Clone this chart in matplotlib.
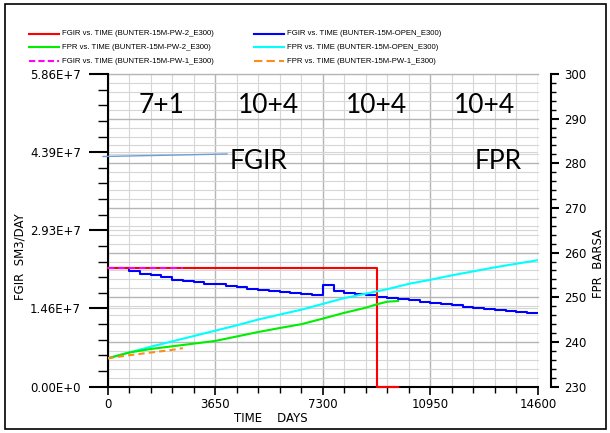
import numpy as np
import matplotlib
matplotlib.use('Agg')
import matplotlib.pyplot as plt
from matplotlib.ticker import MultipleLocator
from matplotlib.transforms import blended_transform_factory
from matplotlib.lines import Line2D
from matplotlib.patches import Rectangle

# --- data ---
# FGIR, SM3/DAY
fgir_pw2_t = [0, 9125, 9855]
fgir_pw2 = [2.216e7, 0.0, 0.0]

fgir_pw1_t = [0, 2555]
fgir_pw1 = [2.216e7, 2.216e7]

fgir_open_t = [365 * i for i in range(41)]
fgir_open = [2.216e7, 2.216e7, 2.160e7, 2.117e7, 2.085e7, 2.053e7, 2.004e7, 1.978e7,
             1.953e7, 1.929e7, 1.916e7, 1.884e7, 1.865e7, 1.835e7, 1.803e7, 1.790e7,
             1.766e7, 1.752e7, 1.738e7, 1.715e7, 1.900e7, 1.800e7, 1.760e7, 1.728e7,
             1.710e7, 1.677e7, 1.660e7, 1.634e7, 1.615e7, 1.583e7, 1.565e7, 1.540e7,
             1.520e7, 1.500e7, 1.480e7, 1.460e7, 1.440e7, 1.420e7, 1.400e7, 1.380e7,
             1.380e7]

# FPR, BARSA
fpr_pw2_t = [0, 730, 1460, 2190, 2920, 3650, 4380, 5110, 5840, 6570, 7300, 8030,
             8760, 9125, 9490, 9855]
fpr_pw2 = [236.3, 237.6, 238.4, 239.0, 239.6, 240.2, 241.2, 242.2, 243.1, 243.95,
           245.2, 246.5, 247.65, 248.4, 249.0, 249.15]

fpr_open_t = [730 * i for i in range(21)]
fpr_open = [236.3, 237.6, 238.9, 240.1, 241.3, 242.5, 243.7, 245.0, 246.1, 247.2,
            248.5, 249.8, 250.8, 251.8, 253.0, 253.9, 254.9, 255.8, 256.7, 257.5, 258.3]

fpr_pw1_t = [0, 730, 1460, 2190, 2555]
fpr_pw1 = [236.3, 237.0, 237.6, 238.2, 238.6]

x_ticks = [0, 3650, 7300, 10950, 14600]
y_ticks = [0, 1.465e7, 2.93e7, 4.395e7, 5.86e7]
y_tick_labels = ['0.00E+0', '1.46E+7', '2.93E+7', '4.39E+7', '5.86E+7']
p_ticks = [230, 240, 250, 260, 270, 280, 290, 300]

phases = ['7+1', '10+4', '10+4', '10+4']

legend_rows = [
    ('FGIR vs. TIME (BUNTER-15M-PW-2_E300)', 'red', '-',
     'FGIR vs. TIME (BUNTER-15M-OPEN_E300)', 'blue', '-'),
    ('FPR vs. TIME (BUNTER-15M-PW-2_E300)', '#00ee00', '-',
     'FPR vs. TIME (BUNTER-15M-OPEN_E300)', 'cyan', '-'),
    ('FGIR vs. TIME (BUNTER-15M-PW-1_E300)', 'magenta', '--',
     'FPR vs. TIME (BUNTER-15M-PW-1_E300)', '#ff8c1a', '--'),
]

W, H = 610, 433
plt.rcParams['font.family'] = 'DejaVu Sans'


def fx(x):
    return x / W


def fy(y):
    return 1 - y / H


fig = plt.figure(figsize=(W / 100, H / 100), dpi=100)
ax = fig.add_axes([fx(107.5), fy(386.5), (538 - 107.5) / W, (386.5 - 74) / H])
ax2 = ax.twinx()

ax.set_xlim(0, 14600)
ax.set_ylim(0, 5.86e7)
ax2.set_ylim(230, 300)

# grid
light = '#d6d6d6'
dark = '#b5b5b5'
ax.set_axisbelow(True)
for d in range(0, 14601, 730):
    ax.axvline(d, color=dark if d % 3650 == 0 else light, lw=1.0 if d % 3650 == 0 else 0.8, zorder=0.5)
for v in y_ticks[1:]:
    ax.axhline(v, color=light, lw=0.8, zorder=0.5)
trans = blended_transform_factory(ax.transAxes, ax2.transData)
for p in range(232, 301, 2):
    ax.plot([0, 1], [p, p], transform=trans, color=dark if p % 10 == 0 else light,
            lw=1.0 if p % 10 == 0 else 0.8, zorder=0.5, clip_on=False)

# FGIR lines
ax.plot(fgir_pw2_t, fgir_pw2, color='red', lw=1.5, drawstyle='steps-post', zorder=3, clip_on=False)
ax.plot(fgir_open_t, fgir_open, color='blue', lw=1.5, drawstyle='steps-post', zorder=2)
ax.plot(fgir_pw1_t, fgir_pw1, color='magenta', lw=1.5, ls=(0, (3, 2)), zorder=3)

# FPR lines
ax2.plot(fpr_open_t, fpr_open, color='cyan', lw=1.5)
ax2.plot(fpr_pw2_t, fpr_pw2, color='#00ee00', lw=1.5)
ax2.plot(fpr_pw1_t, fpr_pw1, color='#ff8c1a', lw=1.5, ls=(0, (3, 2)))

# spines
for s in ['top', 'right']:
    ax.spines[s].set_visible(False)
for s in ['top', 'left', 'bottom']:
    ax2.spines[s].set_visible(False)
ax.spines['left'].set_linewidth(1.5)
ax.spines['bottom'].set_linewidth(1.5)
ax2.spines['right'].set_position(('outward', 9.5))
ax2.spines['right'].set_linewidth(1.5)

# ticks
ax.set_xticks(x_ticks)
ax.xaxis.set_minor_locator(MultipleLocator(730))
ax.set_yticks(y_ticks)
ax.set_yticklabels(y_tick_labels)
ax.yaxis.set_minor_locator(MultipleLocator(2.93e6))
ax.tick_params(axis='x', which='major', length=6, width=1.2, pad=2, labelsize=8.5)
ax.tick_params(axis='x', which='minor', length=4.5, width=1.0)
ax.tick_params(axis='y', which='major', length=14, width=1.5, pad=5, labelsize=8.5)
ax.tick_params(axis='y', which='minor', length=7, width=1.0)
ax2.set_yticks(p_ticks)
ax2.yaxis.set_minor_locator(MultipleLocator(2))
ax2.tick_params(axis='y', which='major', length=6, width=1.5, pad=3, labelsize=8.5)
ax2.tick_params(axis='y', which='minor', length=3.5, width=1.0)

# axis titles
fig.text(fx(20), fy(257), 'FGIR  SM3/DAY', rotation=90, ha='center', va='center', fontsize=8.5)
fig.text(fx(598), fy(263), 'FPR  BARSA', rotation=90, ha='center', va='center', fontsize=8.5)
fig.text(fx(271), fy(418), 'TIME    DAYS', ha='center', va='center', fontsize=8.5)

# big annotations
for i, lab in enumerate(phases):
    ax.text(1825 + 3650 * i, 0.90, lab, transform=blended_transform_factory(ax.transData, ax.transAxes),
            ha='center', va='center', fontsize=19, family='Lato')
ax.text(0.35, 0.72, 'FGIR', transform=ax.transAxes, ha='center', va='center', fontsize=19, family='Lato')
ax.text(0.907, 0.72, 'FPR', transform=ax.transAxes, ha='center', va='center', fontsize=19, family='Lato')
fig.add_artist(Line2D([fx(103), fx(227)], [fy(156.5), fy(154)], color='#6a9fd8', lw=1.0))

# legend drawn by hand
for r, (t1, c1, s1, t2, c2, s2) in enumerate(legend_rows):
    yy = fy(33.5 + 13.8 * r)
    fig.add_artist(Line2D([fx(29), fx(59)], [yy, yy], color=c1, lw=1.5,
                          ls=(0, (3, 1.5)) if s1 == '--' else '-'))
    fig.text(fx(62), yy, t1, ha='left', va='center', fontsize=5.6, family='Liberation Sans')
    fig.add_artist(Line2D([fx(254), fx(284)], [yy, yy], color=c2, lw=1.5,
                          ls=(0, (4, 2)) if s2 == '--' else '-'))
    fig.text(fx(287), yy, t2, ha='left', va='center', fontsize=5.6, family='Liberation Sans')

# outer frame
fig.add_artist(Rectangle((fx(5), fy(429)), 601 / W, 425 / H, transform=fig.transFigure,
                         fill=False, lw=1.2, ec='black'))

fig.savefig('out.png', dpi=100)
